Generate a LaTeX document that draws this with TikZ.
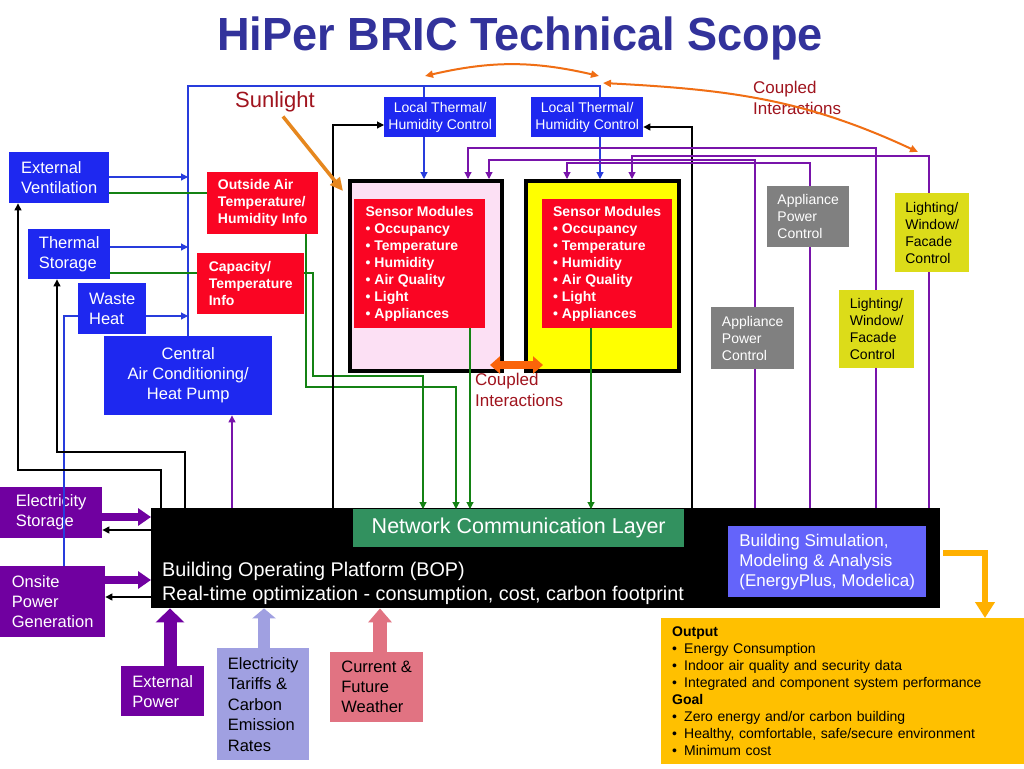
\documentclass[tikz,border=0pt]{standalone}
\usepackage{fontspec}
\setmainfont{Liberation Sans}
\usepackage{graphicx}
\usetikzlibrary{arrows.meta,calc}
\definecolor{boxblue}{RGB}{30,40,240}
\definecolor{boxred}{RGB}{250,5,35}
\definecolor{roompink}{RGB}{252,224,244}
\definecolor{roomyellow}{RGB}{255,255,0}
\definecolor{boxgrey}{RGB}{128,128,128}
\definecolor{boxlime}{RGB}{220,220,25}
\definecolor{boxpurple}{RGB}{112,0,160}
\definecolor{boxlav}{RGB}{160,160,225}
\definecolor{boxrose}{RGB}{225,115,130}
\definecolor{nclgreen}{RGB}{50,145,95}
\definecolor{simblue}{RGB}{100,100,250}
\definecolor{outgold}{RGB}{255,192,0}
\definecolor{arrorange}{RGB}{240,110,20}
\definecolor{cplorange}{RGB}{250,100,10}
\definecolor{sunorange}{RGB}{230,135,30}
\definecolor{bentorange}{RGB}{255,176,0}
\definecolor{darkred}{RGB}{160,20,30}
\definecolor{titleblue}{RGB}{50,50,155}
\definecolor{lineblue}{RGB}{40,60,220}
\definecolor{linegreen}{RGB}{20,130,20}
\definecolor{linepurple}{RGB}{120,20,170}
\newcommand{\obul}{\makebox[12pt][l]{•}}
\tikzset{
  box/.style={anchor=north west, inner sep=0pt, align=left, font=\fontsize{16.5}{20}\selectfont},
  smallbox/.style={box, font=\fontsize{14}{17}\selectfont},
  boldbox/.style={box, font=\fontsize{14}{17}\selectfont\bfseries},
  ltbox/.style={smallbox, fill=boxblue, text=white, align=center, minimum width=112pt, minimum height=40pt},
  room/.style={anchor=north west, draw, line width=4pt, minimum height=190pt, inner sep=0pt},
  label/.style={anchor=west, inner sep=0pt, align=left},
  tip/.style={-{Triangle[length=7pt,width=7pt]}},
  bluewire/.style={draw=lineblue, line width=1.1pt},
  greenwire/.style={draw=linegreen, line width=1.1pt},
  blackwire/.style={draw=black, line width=1.1pt},
  purplewire/.style={draw=linepurple, line width=1.1pt},
  sunarrow/.style={draw=sunorange, line width=3.5pt, -{Triangle[length=13pt,width=12pt]}},
  orangedbl/.style={draw=arrorange, line width=2pt, {Triangle[length=8pt,width=7pt]}-{Triangle[length=8pt,width=7pt]}},
  couplearrow/.style={draw=cplorange, line width=8pt, {Triangle[length=10pt,width=17pt]}-{Triangle[length=10pt,width=17pt]}},
  fathoriz/.style={draw=boxpurple, line width=8pt, -{Triangle[length=13pt,width=17pt]}},
  bentarrow/.style={draw=bentorange, line width=6pt, -{Triangle[length=16pt,width=19pt]}}
}
\begin{document}
\begin{tikzpicture}[x=1pt,y=-1pt]
	\path[use as bounding box, fill=white] (0,0) rectangle (1024,768);
	\node[anchor=base, inner sep=0pt, text=titleblue] (title) at (520,50) {\scalebox{0.97}[1]{\fontsize{46.5}{54}\selectfont\bfseries HiPer BRIC Technical Scope}};
	\node[label, text=darkred, font=\fontsize{22}{26}\selectfont] (sunlight) at (235,102) {Sunlight};
	\node[label, text=darkred, font=\fontsize{17}{20.5}\selectfont] (cpltop) at (753,98) {Coupled\\Interactions};
	\node[label, text=darkred, font=\fontsize{17}{20.5}\selectfont] (cplmid) at (475,390) {Coupled\\Interactions};
	\node[box, fill=boxblue, text=white, minimum width=100pt, minimum height=51pt] (extvent) at (9,152) {External\\Ventilation};
	\node[box, fill=boxblue, text=white, minimum width=82pt, minimum height=50pt] (thermal) at (28,229) {Thermal\\Storage};
	\node[box, fill=boxblue, text=white, minimum width=68pt, minimum height=51pt] (waste) at (78,283) {Waste\\Heat};
	\node[box, fill=boxblue, text=white, align=center, minimum width=168pt, minimum height=79pt] (cac) at (104,336) {Central\\Air Conditioning/\\Heat Pump};
	\node[boldbox, fill=boxred, text=white, minimum width=111pt, minimum height=62pt] (outair) at (207,172) {Outside Air\\Temperature/\\Humidity Info};
	\node[boldbox, fill=boxred, text=white, minimum width=107pt, minimum height=61pt] (capinfo) at (197,253) {Capacity/\\Temperature\\Info};
	\node[ltbox] (lt1) at (384,97) {Local Thermal/\\Humidity Control};
	\node[ltbox] (lt2) at (531,97) {Local Thermal/\\Humidity Control};
	\node[room, fill=roompink, minimum width=152pt] (room1) at (348,179) {};
	\node[room, fill=roomyellow, minimum width=153pt] (room2) at (524,179) {};
	\node[boldbox, fill=boxred, text=white, minimum width=131pt, minimum height=129pt] (sens1) at (354,199) {Sensor Modules\\• Occupancy\\• Temperature\\• Humidity\\• Air Quality\\• Light\\• Appliances};
	\node[boldbox, fill=boxred, text=white, minimum width=130pt, minimum height=129pt] (sens2) at (542,199) {Sensor Modules\\• Occupancy\\• Temperature\\• Humidity\\• Air Quality\\• Light\\• Appliances};
	\node[smallbox, fill=boxgrey, text=white, minimum width=82pt, minimum height=61pt] (app1) at (767,186) {Appliance\\Power\\Control};
	\node[smallbox, fill=boxgrey, text=white, minimum width=83pt, minimum height=62pt] (app2) at (711,307) {Appliance\\Power\\Control};
	\node[smallbox, fill=boxlime, minimum width=74pt, minimum height=79pt] (light1) at (895,193) {Lighting/\\Window/\\Facade\\Control};
	\node[smallbox, fill=boxlime, minimum width=75pt, minimum height=78pt] (light2) at (839,290) {Lighting/\\Window/\\Facade\\Control};
	\node[box, fill=black, minimum width=789pt, minimum height=100pt] (bop) at (151,508) {};
	\node[box, fill=nclgreen, text=white, align=center, minimum width=331pt, minimum height=38pt, font=\fontsize{21.5}{25}\selectfont] (ncl) at (353,509) {Network Communication Layer};
	\node[label, text=white, font=\fontsize{19.8}{24}\selectfont] (boptext) at (162,583) {Building Operating Platform (BOP)\\Real-time optimization - consumption, cost, carbon footprint};
	\node[box, fill=simblue, text=white, minimum width=198pt, minimum height=71pt, font=\fontsize{17}{20}\selectfont] (sim) at (728,526) {Building Simulation,\\Modeling \& Analysis\\(EnergyPlus, Modelica)};
	\node[box, fill=outgold, text width=341pt, inner xsep=11pt, minimum height=146pt, font=\fontsize{14}{17}\selectfont] (output) at (661,618) {\textbf{Output}\\\obul Energy Consumption\\\obul Indoor air quality and security data\\\obul Integrated and component system performance\\\textbf{Goal}\\\obul Zero energy and/or carbon building\\\obul Healthy, comfortable, safe/secure environment\\\obul Minimum cost};
	\node[box, fill=boxpurple, text=white, minimum width=102pt, minimum height=51pt] (elecst) at (0,487) {Electricity\\Storage};
	\node[box, fill=boxpurple, text=white, minimum width=105pt, minimum height=71pt] (onsite) at (0,566) {Onsite\\Power\\Generation};
	\node[box, fill=boxpurple, text=white, minimum width=83pt, minimum height=50pt] (extpow) at (121,666) {External\\Power};
	\node[box, fill=boxlav, minimum width=92pt, minimum height=112pt, font=\fontsize{16.5}{20.5}\selectfont] (tariff) at (217,648) {Electricity\\Tariffs \&\\Carbon\\Emission\\Rates};
	\node[box, fill=boxrose, minimum width=93pt, minimum height=70pt] (weather) at (330,652) {Current \&\\Future\\Weather};
	\coordinate (r1) at (0,177);
	\coordinate (r2) at (0,193);
	\coordinate (r3) at (0,247);
	\coordinate (r4) at (0,273);
	\coordinate (r5) at (0,316);
	\coordinate (r6) at (0,517);
	\coordinate (r7) at (0,530);
	\coordinate (r8) at (0,580);
	\coordinate (r9) at (0,597);
	\coordinate (bus) at (188,86);
	\coordinate (tap1) at (424,86);
	\coordinate (tap2) at (600,86);
	\coordinate (wh) at (64,316);
	\draw[bluewire, tip] (extvent.east |- r1) -- (bus |- r1);
	\draw[bluewire, tip] (thermal.east |- r3) -- (bus |- r3);
	\draw[bluewire, tip] (waste.east |- r5) -- (bus |- r5);
	\draw[bluewire] (bus |- cac.north) -- (bus) -- (tap2) -- (tap2 |- lt2.north);
	\draw[bluewire] (tap1) -- (tap1 |- lt1.north);
	\draw[bluewire, tip] (tap1 |- lt1.south) -- (tap1 |- room1.north);
	\draw[bluewire, tip] (tap2 |- lt2.south) -- (tap2 |- room2.north);
	\draw[bluewire] (wh |- onsite.north) -- (wh) -- (waste.west |- wh);
	\coordinate (g1) at (306,387);
	\coordinate (g1e) at (456,387);
	\coordinate (g2) at (313,376);
	\coordinate (g2e) at (423,376);
	\coordinate (g3) at (470,0);
	\coordinate (g4) at (591,0);
	\draw[greenwire] (extvent.east |- r2) -- (outair.west |- r2);
	\draw[greenwire] (thermal.east |- r4) -- (capinfo.west |- r4);
	\draw[greenwire, tip] (g1 |- outair.south) -- (g1) -- (g1e) -- (g1e |- ncl.north);
	\draw[greenwire, tip] (capinfo.east |- r4) -- (g2 |- r4) -- (g2) -- (g2e) -- (g2e |- ncl.north);
	\draw[greenwire, tip] (g3 |- sens1.south) -- (g3 |- ncl.north);
	\draw[greenwire, tip] (g4 |- sens2.south) -- (g4 |- ncl.north);
	\coordinate (k1) at (333,125);
	\coordinate (k2) at (692,127);
	\coordinate (k3) at (18,470);
	\coordinate (k3e) at (161,470);
	\coordinate (k4) at (57,452);
	\coordinate (k4e) at (185,452);
	\draw[blackwire, tip] (k1 |- bop.north) -- (k1) -- (lt1.west |- k1);
	\draw[blackwire, tip] (k2 |- bop.north) -- (k2) -- (lt2.east |- k2);
	\draw[blackwire, tip] (k3e |- bop.north) -- (k3e) -- (k3) -- (k3 |- extvent.south);
	\draw[blackwire, tip] (k4e |- bop.north) -- (k4e) -- (k4) -- (k4 |- thermal.south);
	\draw[fathoriz] (elecst.east |- r6) -- (bop.west |- r6);
	\draw[blackwire, tip] (bop.west |- r7) -- (elecst.east |- r7);
	\draw[fathoriz] (onsite.east |- r8) -- (bop.west |- r8);
	\draw[blackwire, tip] (bop.west |- r9) -- (onsite.east |- r9);
	\coordinate (c1) at (170,0);
	\coordinate (c2) at (264,0);
	\coordinate (c3) at (380,0);
	\draw[draw=boxpurple, line width=13pt, -{Triangle[length=14pt,width=28pt]}] (c1 |- extpow.north) -- (c1 |- bop.south);
	\draw[draw=boxlav, line width=12pt, -{Triangle[length=10pt,width=23pt]}] (c2 |- tariff.north) -- (c2 |- bop.south);
	\draw[draw=boxrose, line width=14pt, -{Triangle[length=14pt,width=23pt]}] (c3 |- weather.north) -- (c3 |- bop.south);
	\coordinate (p0) at (232,0);
	\coordinate (pa) at (755,160);
	\coordinate (pa2) at (489,160);
	\coordinate (pb) at (810,163);
	\coordinate (pb2) at (567,163);
	\coordinate (pc) at (876,148);
	\coordinate (pc2) at (468,148);
	\coordinate (pd) at (929,156);
	\coordinate (pd2) at (632,156);
	\draw[purplewire, tip] (p0 |- bop.north) -- (p0 |- cac.south);
	\draw[purplewire] (pa |- bop.north) -- (pa |- app2.south);
	\draw[purplewire, tip] (pa |- app2.north) -- (pa) -- (pa2) -- (pa2 |- room1.north);
	\draw[purplewire] (pb |- bop.north) -- (pb |- app1.south);
	\draw[purplewire, tip] (pb |- app1.north) -- (pb) -- (pb2) -- (pb2 |- room2.north);
	\draw[purplewire] (pc |- bop.north) -- (pc |- light2.south);
	\draw[purplewire, tip] (pc |- light2.north) -- (pc) -- (pc2) -- (pc2 |- room1.north);
	\draw[purplewire] (pd |- bop.north) -- (pd |- light1.south);
	\draw[purplewire, tip] (pd |- light1.north) -- (pd) -- (pd2) -- (pd2 |- room2.north);
	\coordinate (sunB) at (343,191);
	\coordinate (arcA) at (425,76);
	\coordinate (arcB) at (599,76);
	\coordinate (longA) at (603,83);
	\coordinate (longB) at (918,152);
	\coordinate (oa) at (943,553);
	\coordinate (ob) at (985,553);
	\draw[sunarrow] ([xshift=8pt,yshift=-4pt]sunlight.south) -- (sunB);
	\draw[orangedbl] (arcA) to[bend left=13] (arcB);
	\draw[orangedbl] (longA) to[out=-3,in=155] (longB);
	\draw[couplearrow] ([xshift=-14pt,yshift=8pt]room1.south east) -- ([xshift=19pt,yshift=8pt]room2.south west);
	\draw[bentarrow] (oa) -- (ob) -- (ob |- output.north);
\end{tikzpicture}
\end{document}
